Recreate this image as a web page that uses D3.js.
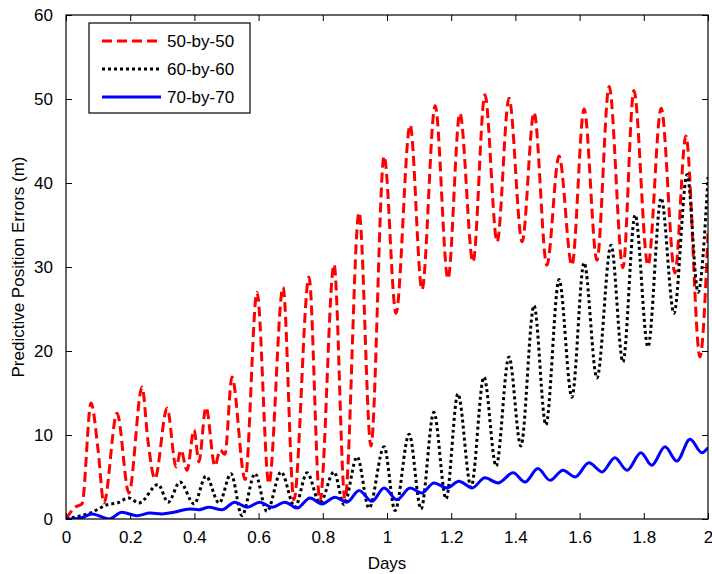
<!DOCTYPE html>
<html>
<head>
<meta charset="utf-8">
<script src="https://cdn.jsdelivr.net/npm/d3@7"></script>
<style>
  html, body { margin: 0; padding: 0; background: #fff; }
  svg { display: block; font-family: "Liberation Sans", Arial, Helvetica, sans-serif; }
</style>
</head>
<body>
<svg id="chart" width="712" height="574"></svg>
<script>
// Predictive position errors over two days for three grid resolutions.
// Each series is listed as turning points (days, metres) of its oscillation.

const seriesNames = ["50-by-50", "60-by-60", "70-by-70"];

const days50 = [0.000, 0.028, 0.050, 0.078, 0.100, 0.118, 0.159, 0.196, 0.237, 0.255, 0.277, 0.315,
  0.343, 0.358, 0.377, 0.399, 0.414, 0.436, 0.464, 0.480, 0.495, 0.517, 0.558, 0.595, 0.632, 0.676,
  0.710, 0.757, 0.791, 0.835, 0.869, 0.913, 0.950, 0.991, 1.028, 1.072, 1.109, 1.150, 1.190, 1.227,
  1.268, 1.305, 1.343, 1.380, 1.421, 1.458, 1.498, 1.536, 1.576, 1.614, 1.654, 1.692, 1.735, 1.769,
  1.813, 1.854, 1.897, 1.931, 1.975, 2.000];
const err50 = [0.0, 1.4, 1.8, 13.8, 8.2, 1.9, 12.6, 3.1, 15.7, 9.4, 4.8, 13.2,
  6.2, 8.2, 5.8, 10.6, 6.8, 13.3, 6.3, 8.2, 7.7, 16.9, 4.7, 27.0, 4.2, 27.6,
  2.3, 28.8, 2.1, 30.3, 2.3, 36.5, 8.7, 43.2, 24.5, 46.9, 27.3, 49.2, 28.6, 48.3,
  30.6, 50.5, 33.0, 50.1, 33.0, 48.4, 30.2, 43.2, 30.2, 48.8, 30.8, 51.5, 29.9, 51.0,
  30.2, 48.9, 29.3, 45.6, 19.3, 34.0];

const days60 = [0.000, 0.037, 0.081, 0.128, 0.159, 0.196, 0.227, 0.287, 0.318, 0.355, 0.399, 0.436,
  0.477, 0.514, 0.548, 0.589, 0.626, 0.670, 0.713, 0.751, 0.791, 0.835, 0.866, 0.907, 0.944, 0.991,
  1.025, 1.069, 1.106, 1.146, 1.184, 1.221, 1.262, 1.302, 1.340, 1.380, 1.417, 1.458, 1.495, 1.536,
  1.576, 1.614, 1.654, 1.698, 1.735, 1.773, 1.813, 1.854, 1.894, 1.935, 1.969, 2.000];
const err60 = [0.0, 0.3, 0.8, 1.7, 1.9, 2.5, 1.9, 4.1, 2.0, 4.4, 1.8, 5.1,
  1.9, 5.4, 0.4, 5.4, 0.9, 5.6, 1.4, 5.5, 1.9, 5.6, 1.7, 7.4, 1.3, 8.6,
  1.0, 10.1, 1.2, 12.7, 2.4, 14.9, 3.8, 16.9, 6.3, 19.3, 8.7, 25.4, 11.2, 28.5,
  14.5, 30.5, 16.8, 32.6, 18.7, 36.2, 20.5, 38.2, 24.5, 41.0, 27.0, 40.7];

const days70 = [0.000, 0.044, 0.081, 0.134, 0.174, 0.221, 0.262, 0.299, 0.336, 0.386, 0.414, 0.445,
  0.486, 0.526, 0.564, 0.604, 0.642, 0.682, 0.720, 0.760, 0.798, 0.838, 0.875, 0.913, 0.953, 0.991,
  1.031, 1.072, 1.109, 1.146, 1.187, 1.224, 1.265, 1.305, 1.346, 1.393, 1.430, 1.470, 1.508, 1.548,
  1.586, 1.629, 1.670, 1.710, 1.748, 1.791, 1.825, 1.866, 1.903, 1.944, 1.981, 2.000];
const err70 = [0.0, 0.1, 0.6, 0.0, 0.8, 0.4, 0.7, 0.6, 0.8, 1.2, 1.1, 1.4,
  1.1, 2.0, 1.4, 2.0, 1.4, 2.0, 1.3, 2.5, 1.8, 2.6, 2.0, 3.4, 2.1, 3.7,
  2.3, 3.7, 3.1, 4.3, 3.7, 4.5, 3.7, 4.9, 4.3, 5.5, 4.4, 6.0, 4.6, 5.8,
  5.0, 6.7, 5.6, 7.3, 5.8, 7.9, 6.4, 8.6, 6.9, 9.5, 7.9, 8.5];

const xTicks = [0, 0.2, 0.4, 0.6, 0.8, 1, 1.2, 1.4, 1.6, 1.8, 2];
const yTicks = [0, 10, 20, 30, 40, 50, 60];

const width = 712, height = 574;
const margin = { left: 66, right: 4, top: 15, bottom: 55 };
const innerW = width - margin.left - margin.right;
const innerH = height - margin.top - margin.bottom;

const svg = d3.select("#chart");
const g = svg.append("g").attr("transform", `translate(${margin.left},${margin.top})`);

const x = d3.scaleLinear().domain([0, 2]).range([0, innerW]);
const y = d3.scaleLinear().domain([0, 60]).range([innerH, 0]);

const styles = [
  { color: "#ff0000", dash: "10,5", width: 3 },
  { color: "#000000", dash: "3,3", width: 3 },
  { color: "#0000ff", dash: null, width: 3 }
];
const seriesData = [
  d3.zip(days50, err50),
  d3.zip(days60, err60),
  d3.zip(days70, err70)
];

g.append("clipPath").attr("id", "plotClip")
  .append("rect").attr("x", 0).attr("y", 0).attr("width", innerW).attr("height", innerH);

const line = d3.line()
  .x(d => x(d[0]))
  .y(d => y(d[1]))
  .curve(d3.curveMonotoneX);

const lines = g.append("g").attr("clip-path", "url(#plotClip)");
seriesData.forEach((data, i) => {
  lines.append("path")
    .datum(data)
    .attr("fill", "none")
    .attr("stroke", styles[i].color)
    .attr("stroke-width", styles[i].width)
    .attr("stroke-dasharray", styles[i].dash)
    .attr("stroke-linejoin", "round")
    .attr("d", line);
});

// Axes: ticks point inward on all four sides of the box
const fontSize = 17;
const tickLen = 6;

const xAxis = d3.axisBottom(x).tickValues(xTicks).tickSizeInner(-tickLen).tickSizeOuter(0)
  .tickPadding(12).tickFormat(d3.format("~g"));
const xAxisG = g.append("g").attr("transform", `translate(0,${innerH})`).call(xAxis);

const yAxis = d3.axisLeft(y).tickValues(yTicks).tickSizeInner(-tickLen).tickSizeOuter(0)
  .tickPadding(13).tickFormat(d3.format("d"));
const yAxisG = g.append("g").call(yAxis);

const xTop = d3.axisTop(x).tickValues(xTicks).tickSizeInner(-tickLen).tickSizeOuter(0).tickFormat("");
g.append("g").call(xTop);
const yRight = d3.axisRight(y).tickValues(yTicks).tickSizeInner(-tickLen).tickSizeOuter(0).tickFormat("");
g.append("g").attr("transform", `translate(${innerW},0)`).call(yRight);

g.selectAll(".domain").remove();
g.selectAll(".tick line").attr("stroke", "#000").attr("stroke-width", 1);
g.selectAll(".tick text").attr("fill", "#000").style("font-size", fontSize + "px")
  .style("font-family", "'Liberation Sans', Arial, sans-serif");

g.append("rect")
  .attr("x", 0).attr("y", 0).attr("width", innerW).attr("height", innerH)
  .attr("fill", "none").attr("stroke", "#000").attr("stroke-width", 1.2);

// Axis titles
svg.append("text")
  .attr("x", margin.left + innerW / 2)
  .attr("y", height - 5)
  .attr("text-anchor", "middle")
  .style("font-size", fontSize + "px")
  .text("Days");

svg.append("text")
  .attr("transform", `translate(24,${margin.top + innerH / 2}) rotate(-90)`)
  .attr("text-anchor", "middle")
  .style("font-size", fontSize + "px")
  .text("Predictive Position Errors (m)");

// Legend
const legend = svg.append("g").attr("transform", "translate(89,23)");
legend.append("rect")
  .attr("x", 0).attr("y", 0).attr("width", 161).attr("height", 90)
  .attr("fill", "#fff").attr("stroke", "#000").attr("stroke-width", 1.2);
seriesNames.forEach((name, i) => {
  const cy = 18 + i * 28;
  legend.append("line")
    .attr("x1", 13).attr("x2", 72).attr("y1", cy).attr("y2", cy)
    .attr("stroke", styles[i].color)
    .attr("stroke-width", styles[i].width)
    .attr("stroke-dasharray", styles[i].dash);
  legend.append("text")
    .attr("x", 78).attr("y", cy + 6)
    .style("font-size", fontSize + "px")
    .text(name);
});
</script>
</body>
</html>
